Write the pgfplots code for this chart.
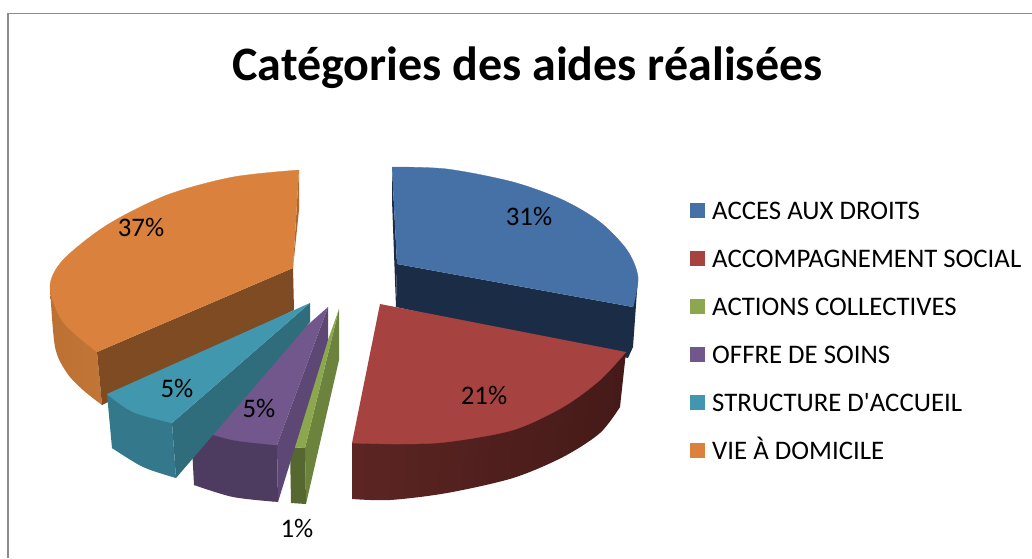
\documentclass[border=0pt]{standalone}
\usepackage{fontspec}
\setmainfont{Carlito}
\newfontfamily\plainquote{Carlito}
\usepackage{pgfplots}
\pgfplotsset{compat=1.18}
% chart colours, top faces
\definecolor{cBlue}{HTML}{4671A7}
\definecolor{cRed}{HTML}{A64341}
\definecolor{cGreen}{HTML}{8BA84E}
\definecolor{cPurple}{HTML}{72578D}
\definecolor{cTeal}{HTML}{4197AE}
\definecolor{cOrange}{HTML}{D9813D}
% side faces
\definecolor{sBlue}{HTML}{1B2D46}
\definecolor{sRedA}{HTML}{5C2523}
\definecolor{sRedB}{HTML}{451A18}
\definecolor{sOrangeA}{HTML}{BC7032}
\definecolor{sOrangeB}{HTML}{C27636}
\newcommand{\lab}{\fontsize{26.8}{28}\selectfont}

\begin{document}
\begin{tikzpicture}
  \begin{axis}[
    scale only axis, width=1032pt, height=558pt,
    xmin=0, xmax=1032, ymin=0, ymax=558, y dir=reverse,
    hide axis, clip=true,
    legend style={at={(axis cs:690,201.5)}, anchor=north west, draw=none, fill=none,
      font=\lab, row sep=24pt, inner sep=0pt,
      nodes={inner sep=0pt, text height=18pt, text depth=6pt}},
    legend cell align=left,
    legend image code/.code={\path[#1, draw=none] (0pt,-4.5pt) rectangle (15pt,10.5pt);
      \path (22pt,0pt);},
  ]
    % page and frame
    \addplot[draw=none, fill=white, forget plot] coordinates {(0,0) (1032,0) (1032,558) (0,558)} -- cycle;
    \addplot[draw=black!45, line width=1.3pt, forget plot] coordinates {(8,558) (8,13.5) (1032,13.5)};

    % orange slice, 37%
    \addplot[draw=none, left color=sOrangeA, right color=sOrangeB, forget plot] coordinates
      {(50,287) (97,352) (102,405) (80,380) (58,340)} -- cycle;
    \addplot[smooth, draw=none, left color=sOrangeA, right color=sOrangeB, forget plot] coordinates
      {(50,287) (55,347) (67,373) (83,390) (102,405)};
    \addplot[draw=none, fill=cOrange!58!black, forget plot] coordinates {(97,352) (293,268) (294,310) (102,405)} -- cycle;
    \addplot[draw=none, fill=cOrange!80!black, forget plot] coordinates {(299,170) (299,210) (293,268)} -- cycle;
    \addplot[draw=none, fill=cOrange, forget plot] coordinates {(299,170) (170,205) (70,265) (60,290) (97,352) (293,268)} -- cycle;
    \addplot[smooth, draw=cOrange, line width=0.3pt, fill=cOrange, forget plot] coordinates
      {(299,170) (233,177) (167,195) (107,225) (63,260) (50,287) (63,322) (97,352)};

    % blue slice, 31%
    \addplot[draw=none, fill=sBlue, forget plot] coordinates {(392,167) (392,200) (396,307) (397,264)} -- cycle;
    \addplot[draw=none, fill=sBlue, forget plot] coordinates {(397,264) (633,307) (638,277) (633,347) (628,358) (396,307)} -- cycle;
    \addplot[draw=none, fill=cBlue] coordinates {(392,167) (500,185) (590,225) (630,290) (633,307) (397,264)} -- cycle;
    \addlegendentry{ACCES AUX DROITS}
    \addplot[smooth, draw=cBlue, line width=0.3pt, fill=cBlue, forget plot] coordinates
      {(392,167) (447,169) (513,182) (563,200) (600,222) (627,250) (638,277) (633,307)};

    % red slice, 21%
    \addplot[draw=none, left color=sRedA, right color=sRedB, forget plot] coordinates
      {(352,443) (352,499) (450,485) (560,450) (620,407) (626,352)} -- cycle;
    \addplot[smooth, draw=none, left color=sRedA, right color=sRedB, forget plot] coordinates
      {(352,499) (390,500) (447,493) (513,478) (563,457) (600,433) (620,407)};
    \addplot[draw=none, fill=cRed] coordinates {(380,304) (626,352) (590,380) (500,425) (420,438) (352,443)} -- cycle;
    \addlegendentry{ACCOMPAGNEMENT SOCIAL}
    \addplot[smooth, draw=cRed, line width=0.3pt, fill=cRed, forget plot] coordinates
      {(626,352) (600,380) (563,407) (513,430) (447,442) (400,444) (352,443)};

    % green slice, 1%
    \addplot[draw=none, fill=cGreen!78!black, forget plot] coordinates {(305,448) (339,309) (339,360) (306,504)} -- cycle;
    \addplot[draw=none, fill=cGreen!62!black, forget plot] coordinates {(290,447) (305,448) (306,504) (291,503)} -- cycle;
    \addplot[draw=none, fill=cGreen] coordinates {(290,447) (339,309) (305,448)} -- cycle;
    \addlegendentry{ACTIONS COLLECTIVES}

    % purple slice, 5%
    \addplot[draw=none, fill=cPurple!82!black, forget plot] coordinates {(277,445) (328,307) (328,340) (278,502)} -- cycle;
    \addplot[draw=none, fill=cPurple!68!black, forget plot] coordinates {(191,428) (277,445) (278,502) (233,495) (194,485)} -- cycle;
    \addplot[smooth, draw=none, fill=cPurple!68!black, forget plot] coordinates {(194,485) (233,497) (278,502)};
    \addplot[draw=none, fill=cPurple] coordinates {(191,428) (328,307) (277,445) (233,438)} -- cycle;
    \addlegendentry{OFFRE DE SOINS}
    \addplot[smooth, draw=cPurple, line width=0.3pt, fill=cPurple, forget plot] coordinates {(191,428) (233,440) (277,445)};

    % teal slice, 5%
    \addplot[draw=none, fill=cTeal!72!black, forget plot] coordinates {(172,423) (310,303) (310,322) (176,478)} -- cycle;
    \addplot[draw=none, fill=cTeal!80!black, forget plot] coordinates {(107,394) (172,423) (176,478) (143,465) (112,448)} -- cycle;
    \addplot[smooth, draw=none, fill=cTeal!80!black, forget plot] coordinates {(112,448) (143,467) (176,478)};
    \addplot[draw=none, fill=cTeal] coordinates {(107,394) (310,303) (172,423) (135,409)} -- cycle;
    \addlegendentry{STRUCTURE D{\plainquote '}ACCUEIL}
    \addplot[smooth, draw=cTeal, line width=0.3pt, fill=cTeal, forget plot] coordinates {(107,394) (133,412) (172,423)};

    % entry for the orange slice, drawn above
    \addplot[draw=none, fill=cOrange] coordinates {(299,170) (299,170)};
    \addlegendentry{VIE À DOMICILE}

    \node[font=\fontsize{48}{52}\selectfont\bfseries] at (axis cs:527.5,68) {Catégories des aides réalisées};
    \node[font=\lab] at (axis cs:141,227) {37\%};
    \node[font=\lab] at (axis cs:529,216) {31\%};
    \node[font=\lab] at (axis cs:484,395) {21\%};
    \node[font=\lab] at (axis cs:177,388) {5\%};
    \node[font=\lab] at (axis cs:259,408) {5\%};
    \node[font=\lab] at (axis cs:297,528) {1\%};
  \end{axis}
\end{tikzpicture}
\end{document}
